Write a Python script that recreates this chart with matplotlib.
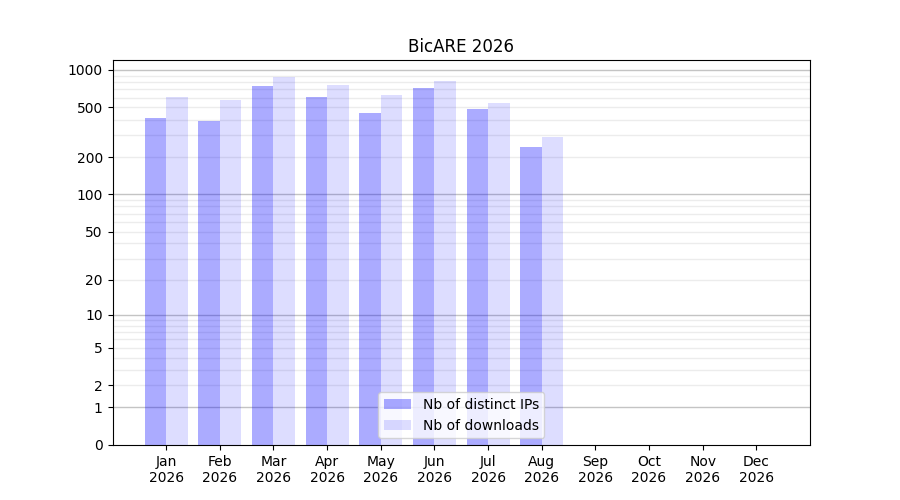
import matplotlib
matplotlib.use("Agg")
import matplotlib.pyplot as plt
import numpy as np

# monthly stats
months = ["Jan", "Feb", "Mar", "Apr", "May", "Jun", "Jul", "Aug", "Sep", "Oct", "Nov", "Dec"]
year = "2026"
distinct_ips = [410, 388, 742, 605, 450, 715, 485, 240]
downloads = [605, 573, 876, 757, 628, 814, 542, 289]
ytick_values = [0, 1, 2, 5, 10, 20, 50, 100, 200, 500, 1000]


def forward(y):
    return np.log10(1 + np.clip(y, 0, None))


def inverse(y):
    return 10 ** y - 1


fig, ax = plt.subplots(figsize=(9, 5), dpi=100)
ax.set_yscale("function", functions=(forward, inverse))

x = np.arange(1, len(distinct_ips) + 1)
ax.bar(x - 0.2, distinct_ips, width=0.4, color="blue", alpha=0.33, label="Nb of distinct IPs")
ax.bar(x + 0.2, downloads, width=0.4, color="blue", alpha=0.135, label="Nb of downloads")

# grid: decades darker, intermediate values lighter
for dec in [1, 10, 100, 1000]:
    ax.axhline(dec, color="#c4c4c4", lw=1, zorder=0)
    for k in range(2, 10):
        if dec * k < 1200:
            ax.axhline(dec * k, color="#ececec", lw=1, zorder=0)

ax.set_yticks(ytick_values)
ax.set_yticklabels([str(v) for v in ytick_values])
ax.set_ylim(0, 1200)
ax.set_xticks(range(1, 13))
ax.set_xticklabels([f"{m}\n{year}" for m in months])
ax.set_xlim(0, 13)
ax.set_title("BicARE 2026")
ax.legend(loc="lower center")

fig.savefig("out.png", dpi=100)
